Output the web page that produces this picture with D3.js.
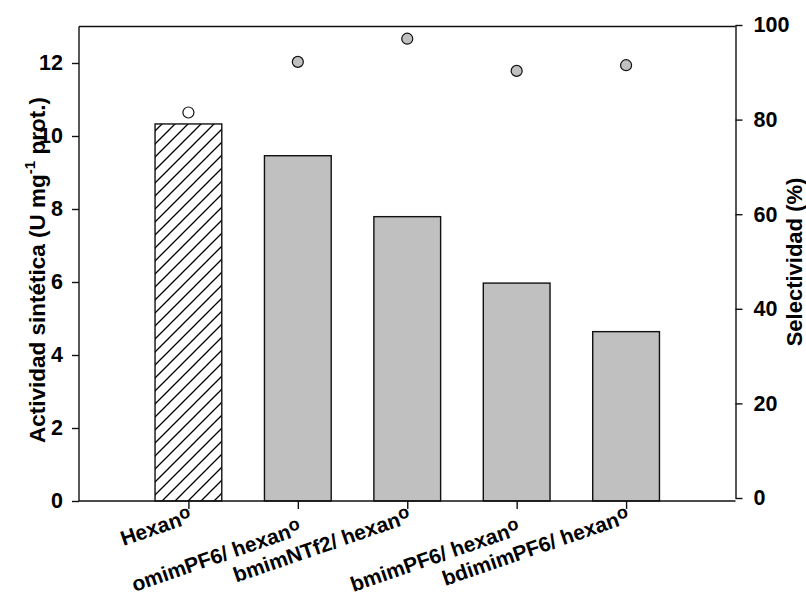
<!DOCTYPE html>
<html>
<head>
<meta charset="utf-8">
<script src="https://cdn.jsdelivr.net/npm/d3@7"></script>
<style>
  html, body { margin: 0; padding: 0; background: #fff; }
  svg { display: block; font-family: "Liberation Sans", Arial, sans-serif; font-weight: bold; }
</style>
</head>
<body>
<svg id="chart" width="806" height="599"></svg>
<script>
// Synthetic activity (bars, left axis) and selectivity (dots, right axis)
const categories = ["Hexano", "omimPF6/ hexano", "bmimNTf2/ hexano", "bmimPF6/ hexano", "bdimimPF6/ hexano"];
const activity = [10.33, 9.46, 7.79, 5.97, 4.64];
const selectivity = [81.5, 92.2, 97.1, 90.3, 91.5];
const leftTicks = [0, 2, 4, 6, 8, 10, 12];
const rightTicks = [0, 20, 40, 60, 80, 100];

const svg = d3.select("#chart");
const frame = { left: 79, right: 735.5, top: 26.5, bottom: 501 };

const x = d3.scaleLinear().domain([0, categories.length + 1]).range([frame.left, frame.right]);
const yL = d3.scaleLinear().domain([0, 13]).range([frame.bottom, frame.top]);
const yR = d3.scaleLinear().domain([0, 100]).range([498, 25]);
const barW = 0.61;

// diagonal hatch for the reference solvent bar
const defs = svg.append("defs");
const pat = defs.append("pattern")
  .attr("id", "hatch").attr("patternUnits", "userSpaceOnUse")
  .attr("width", 13).attr("height", 13);
pat.append("path")
  .attr("d", "M0,13 L13,0 M-3,3 L3,-3 M10,16 L16,10")
  .attr("stroke", "#000").attr("stroke-width", 1.3).attr("fill", "none");

// bars
svg.append("g").selectAll("rect")
  .data(activity)
  .join("rect")
  .attr("x", (d, i) => x(i + 1 - barW / 2))
  .attr("width", (d, i) => x(i + 1 + barW / 2) - x(i + 1 - barW / 2))
  .attr("y", d => yL(d))
  .attr("height", d => yL(0) - yL(d))
  .attr("fill", (d, i) => i === 0 ? "url(#hatch)" : "#c0c0c0")
  .attr("stroke", "#111")
  .attr("stroke-width", 1.4);

// frame: top line
svg.append("line").attr("x1", frame.left).attr("x2", frame.right)
  .attr("y1", frame.top).attr("y2", frame.top).attr("stroke", "#111").attr("stroke-width", 1.4);

// left axis
const axL = svg.append("g").attr("transform", `translate(${frame.left},0)`)
  .call(d3.axisLeft(yL).tickValues(leftTicks).tickSize(7).tickPadding(9).tickSizeOuter(0));
axL.select(".domain").attr("d", `M0,${frame.top}V${frame.bottom}`);

// bottom axis with category ticks
const axB = svg.append("g").attr("transform", `translate(0,${frame.bottom})`)
  .call(d3.axisBottom(x).tickValues(d3.range(1, categories.length + 1)).tickSize(8).tickFormat(""));
axB.select(".domain").attr("d", `M${frame.left},0H${frame.right}`);

// right axis
const axR = svg.append("g").attr("transform", `translate(${frame.right},0)`)
  .call(d3.axisRight(yR).tickValues(rightTicks).tickSize(7).tickPadding(11).tickSizeOuter(0));

svg.selectAll(".domain, .tick line").attr("stroke", "#111").attr("stroke-width", 1.4);
svg.selectAll(".tick text").attr("font-size", 21.5).attr("font-weight", "bold").attr("fill", "#000")
  .attr("font-family", "'Liberation Sans', Arial, sans-serif");

// selectivity dots
svg.append("g").selectAll("circle")
  .data(selectivity)
  .join("circle")
  .attr("cx", (d, i) => x(i + 1))
  .attr("cy", d => yR(d))
  .attr("r", 5.5)
  .attr("fill", (d, i) => i === 0 ? "#fff" : "#c0c0c0")
  .attr("stroke", "#111")
  .attr("stroke-width", 1.2);

// rotated category labels, alternately staggered
const lab = svg.append("g").selectAll("text")
  .data(categories)
  .join("text")
  .attr("text-anchor", "end")
  .attr("font-size", 21)
  .attr("transform", (d, i) => `translate(${x(i + 1) + 5},${i % 2 === 0 ? 522 : 534}) rotate(-19)`);
lab.append("tspan").text(d => d.slice(0, -1));
lab.append("tspan").attr("dy", -6).attr("font-size", 18).text(d => d.slice(-1));

// left axis title
const tL = svg.append("text")
  .attr("transform", "translate(45,270) rotate(-90)")
  .attr("text-anchor", "middle")
  .attr("font-size", 22.5);
tL.append("tspan").text("Actividad sintética (U mg");
tL.append("tspan").attr("font-size", 15).attr("dy", -10).text("-1");
tL.append("tspan").attr("dy", 10).text(" prot.)");

// right axis title
svg.append("text")
  .attr("transform", "translate(802,262) rotate(-90)")
  .attr("text-anchor", "middle")
  .attr("font-size", 22)
  .text("Selectividad (%)");
</script>
</body>
</html>
